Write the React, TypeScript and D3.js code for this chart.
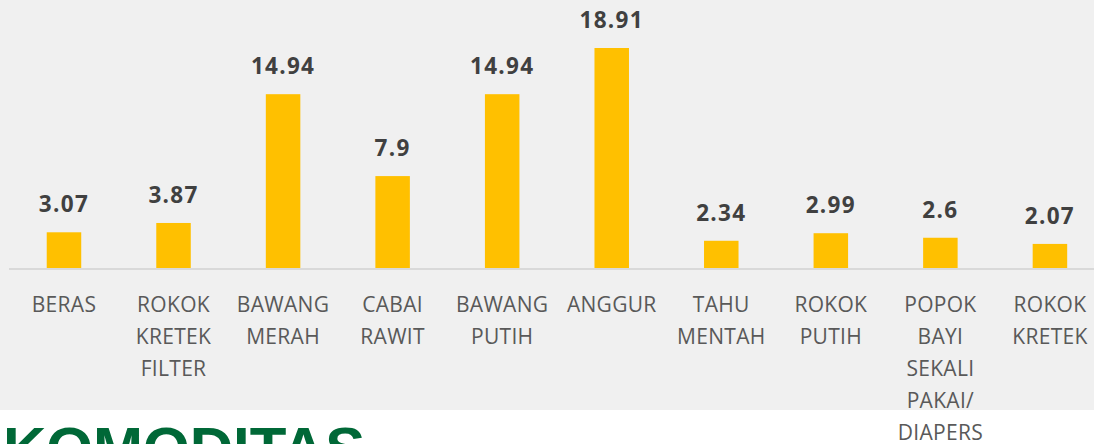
import React, { useEffect, useRef } from 'react';
import * as d3 from 'd3';

const categories = [
  'BERAS',
  'ROKOK KRETEK FILTER',
  'BAWANG MERAH',
  'CABAI RAWIT',
  'BAWANG PUTIH',
  'ANGGUR',
  'TAHU MENTAH',
  'ROKOK PUTIH',
  'POPOK BAYI SEKALI PAKAI/ DIAPERS',
  'ROKOK KRETEK',
];
const values = [3.07, 3.87, 14.94, 7.9, 14.94, 18.91, 2.34, 2.99, 2.6, 2.07];
// how each axis label breaks into lines
const labelLines = [
  ['BERAS'],
  ['ROKOK', 'KRETEK', 'FILTER'],
  ['BAWANG', 'MERAH'],
  ['CABAI', 'RAWIT'],
  ['BAWANG', 'PUTIH'],
  ['ANGGUR'],
  ['TAHU', 'MENTAH'],
  ['ROKOK', 'PUTIH'],
  ['POPOK', 'BAYI', 'SEKALI', 'PAKAI/', 'DIAPERS'],
  ['ROKOK', 'KRETEK'],
];
const title = 'KOMODITAS';

const App: React.FC = () => {
  const ref = useRef<SVGSVGElement | null>(null);

  useEffect(() => {
    if (!ref.current) return;
    const W = 1094;
    const H = 444;
    const svg = d3.select(ref.current);
    svg.selectAll('*').remove();
    svg.attr('width', W).attr('height', H);

    // grey panel behind the chart
    svg.append('rect')
      .attr('x', 0).attr('y', 0)
      .attr('width', W).attr('height', 410)
      .attr('fill', '#f0f0f0');

    const x = d3.scaleBand<string>()
      .domain(categories)
      .range([9.2, 9.2 + 109.55 * categories.length])
      .paddingInner(0.685)
      .paddingOuter(0.3425);

    const y = d3.scaleLinear()
      .domain([0, 18.91])
      .range([268, 48]);

    // baseline
    svg.append('line')
      .attr('x1', 9).attr('x2', W)
      .attr('y1', y(0) + 1).attr('y2', y(0) + 1)
      .attr('stroke', '#d9d9d9')
      .attr('stroke-width', 2);

    svg.selectAll('.bar')
      .data(values)
      .enter().append('rect')
      .attr('class', 'bar')
      .attr('x', (d, i) => x(categories[i])!)
      .attr('y', d => y(d))
      .attr('width', x.bandwidth())
      .attr('height', d => y(0) - y(d))
      .attr('fill', '#ffc000');

    // value labels
    svg.selectAll('.val')
      .data(values)
      .enter().append('text')
      .attr('class', 'val')
      .attr('x', (d, i) => x(categories[i])! + x.bandwidth() / 2)
      .attr('y', d => y(d) - 20)
      .attr('text-anchor', 'middle')
      .attr('font-family', '"Open Sans", sans-serif')
      .attr('font-weight', 700)
      .attr('font-size', 22.5)
      .attr('letter-spacing', 1.3)
      .attr('fill', '#404040')
      .text(d => String(d));

    // category labels
    const lab = svg.selectAll('.cat')
      .data(labelLines)
      .enter().append('text')
      .attr('class', 'cat')
      .attr('text-anchor', 'middle')
      .attr('font-family', '"Open Sans", sans-serif')
      .attr('font-size', 21)
      .attr('letter-spacing', 0.3)
      .attr('fill', '#595959')
      .attr('transform', (d, i) => `translate(${x(categories[i])! + x.bandwidth() / 2},312)`);

    lab.selectAll('tspan')
      .data(d => d)
      .enter().append('tspan')
      .attr('x', 0)
      .attr('y', (d, j) => j * 32)
      .text(d => d);

    svg.append('text')
      .attr('x', 3)
      .attr('y', 469)
      .attr('font-family', '"Liberation Sans", Arial, sans-serif')
      .attr('font-weight', 700)
      .attr('font-size', 60)
      .attr('fill', '#006837')
      .text(title);
  }, []);

  return (
    <svg
      ref={ref}
      style={{ position: 'absolute', left: 0, top: 0, display: 'block' }}
    />
  );
};

export default App;
